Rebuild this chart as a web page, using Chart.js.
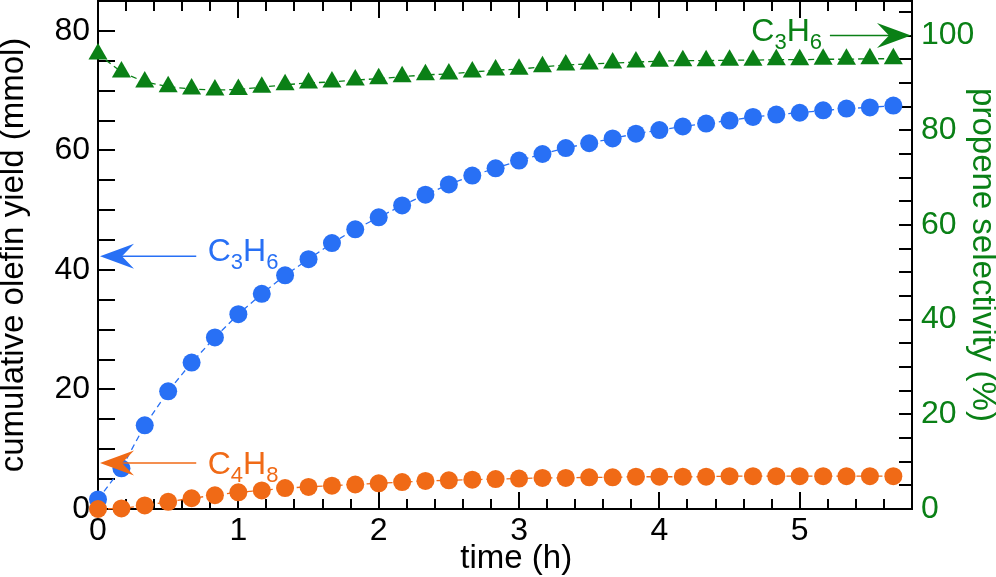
<!DOCTYPE html>
<html>
<head>
<meta charset="utf-8">
<script src="https://cdn.jsdelivr.net/npm/chart.js@4.4.1/dist/chart.umd.min.js"></script>
<style>
  html, body { margin: 0; padding: 0; background: #fff; }
  canvas { display: block; }
</style>
</head>
<body>
<canvas id="c" width="996" height="577"></canvas>
<script>
// ---- data ----
const times = [0, 0.167, 0.333, 0.5, 0.667, 0.833, 1, 1.167, 1.333, 1.5, 1.667, 1.833,
  2, 2.167, 2.333, 2.5, 2.667, 2.833, 3, 3.167, 3.333, 3.5, 3.667, 3.833,
  4, 4.167, 4.333, 4.5, 4.667, 4.833, 5, 5.167, 5.333, 5.5, 5.667];
const propeneYield = [1.6, 6.8, 14.0, 19.7, 24.5, 28.7, 32.6, 36.0, 39.1, 41.8, 44.5, 46.8,
  48.8, 50.8, 52.6, 54.3, 55.8, 57.0, 58.3, 59.4, 60.4, 61.2, 62.0, 62.8,
  63.4, 64.0, 64.5, 65.0, 65.6, 66.0, 66.3, 66.7, 67.0, 67.2, 67.5];
const buteneYield = [0, 0.1, 0.6, 1.2, 1.8, 2.3, 2.8, 3.1, 3.5, 3.7, 3.9, 4.1,
  4.3, 4.5, 4.7, 4.8, 4.9, 5.0, 5.1, 5.2, 5.2, 5.3, 5.3, 5.4,
  5.4, 5.4, 5.4, 5.5, 5.5, 5.5, 5.5, 5.5, 5.5, 5.5, 5.5];
const propeneSelectivity = [96.1, 92.3, 90.2, 89.2, 88.7, 88.5, 88.6, 89.1, 89.6, 90.0, 90.2, 90.6,
  90.9, 91.3, 91.7, 91.9, 92.3, 92.7, 92.9, 93.4, 93.8, 94.0, 94.2, 94.4,
  94.6, 94.7, 94.7, 94.8, 94.8, 94.9, 94.9, 95.0, 95.0, 95.1, 95.1];
const xTickValues = [0, 1, 2, 3, 4, 5];
const leftTickValues = [0, 20, 40, 60, 80];
const rightTickValues = [0, 20, 40, 60, 80, 100];

// ---- styles ----
const BLUE = 'rgb(40,112,245)';
const ORANGE = 'rgb(240,106,22)';
const GREEN = 'rgb(10,128,22)';
const FONT = '"Liberation Sans", Arial, Helvetica, sans-serif';
Chart.defaults.font.family = FONT;

const pts = (vals) => times.map((t, i) => ({ x: t, y: vals[i] }));

function drawFormula(ctx, x, baseline, parts, color) {
  ctx.fillStyle = color;
  ctx.textBaseline = 'alphabetic';
  ctx.textAlign = 'left';
  let cx = x;
  parts.forEach(([txt, sub]) => {
    ctx.font = (sub ? '22px ' : '32px ') + FONT;
    ctx.fillText(txt, cx, baseline + (sub ? 8 : 0));
    cx += ctx.measureText(txt).width;
  });
}

function drawArrow(ctx, tipX, y, tailX, color) {
  const dir = tailX > tipX ? 1 : -1;
  const L = 34, W = 12.5, N = 22;
  ctx.strokeStyle = color;
  ctx.fillStyle = color;
  ctx.lineWidth = 1.5;
  ctx.beginPath();
  ctx.moveTo(tipX + dir * N, y);
  ctx.lineTo(tailX, y);
  ctx.stroke();
  ctx.beginPath();
  ctx.moveTo(tipX, y);
  ctx.lineTo(tipX + dir * L, y - W);
  ctx.lineTo(tipX + dir * N, y);
  ctx.lineTo(tipX + dir * L, y + W);
  ctx.closePath();
  ctx.fill();
}

const insideTicks = {
  id: 'insideTicks',
  beforeDatasetsDraw(chart) {
    const { ctx, chartArea: a, scales: { x, y, y2 } } = chart;
    ctx.save();
    ctx.strokeStyle = '#000';
    ctx.lineWidth = 2;
    ctx.beginPath();
    ctx.moveTo(a.left - 1, a.top);
    ctx.lineTo(a.right + 1, a.top);
    const nx = Math.round((x.max - x.min) / 0.2);
    for (let i = 1; i < nx; i++) {
      const v = x.min + i * 0.2;
      const px = Math.round(x.getPixelForValue(v));
      const L = (i % 5 === 0) ? 17 : 10;
      ctx.moveTo(px, a.bottom); ctx.lineTo(px, a.bottom - L);
      ctx.moveTo(px, a.top); ctx.lineTo(px, a.top + L);
    }
    for (let v = 5; v < y.max; v += 5) {
      const py = Math.round(y.getPixelForValue(v));
      ctx.moveTo(a.left, py); ctx.lineTo(a.left + 17, py);
    }
    for (let v = 5; v < y2.max; v += 5) {
      const py = Math.round(y2.getPixelForValue(v));
      ctx.moveTo(a.right, py); ctx.lineTo(a.right - 13, py);
    }
    ctx.stroke();
    ctx.restore();
  },
  afterDatasetsDraw(chart) {
    const { ctx, scales: { x, y, y2 } } = chart;
    ctx.save();
    // blue C3H6 arrow -> left axis
    const yb = y.getPixelForValue(42.3);
    drawArrow(ctx, x.getPixelForValue(0) + 2, yb, x.getPixelForValue(0.70), BLUE);
    drawFormula(ctx, x.getPixelForValue(0.782), yb + 5, [['C', false], ['3', true], ['H', false], ['6', true]], BLUE);
    // orange C4H8 arrow -> left axis
    const yo = y.getPixelForValue(7.7);
    drawArrow(ctx, x.getPixelForValue(0) + 2, yo, x.getPixelForValue(0.70), ORANGE);
    drawFormula(ctx, x.getPixelForValue(0.782), yo + 11, [['C', false], ['4', true], ['H', false], ['8', true]], ORANGE);
    // green C3H6 arrow -> right axis
    const yg = y2.getPixelForValue(100);
    drawArrow(ctx, x.getPixelForValue(x.max) - 1, yg, x.getPixelForValue(5.215), GREEN);
    drawFormula(ctx, x.getPixelForValue(4.655), yg + 5, [['C', false], ['3', true], ['H', false], ['6', true]], GREEN);
    // x axis title
    ctx.fillStyle = '#000';
    ctx.font = '33px ' + FONT;
    ctx.textAlign = 'center';
    ctx.textBaseline = 'alphabetic';
    ctx.fillText('time (h)', x.getPixelForValue(2.98), 568);
    ctx.restore();
  }
};

const noPadV = s => { s.paddingTop = 0; s.paddingBottom = 0; };

new Chart(document.getElementById('c'), {
  type: 'line',
  data: {
    datasets: [
      {
        label: 'C4H8 yield', data: pts(buteneYield), yAxisID: 'y', order: 0,
        borderColor: ORANGE, backgroundColor: ORANGE, borderWidth: 1.3, borderDash: [6, 4],
        pointRadius: 9, pointHoverRadius: 9, pointBorderWidth: 0, clip: false, tension: 0
      },
      {
        label: 'C3H6 yield', data: pts(propeneYield), yAxisID: 'y', order: 1,
        borderColor: BLUE, backgroundColor: BLUE, borderWidth: 1.3, borderDash: [6, 4],
        pointRadius: 9, pointHoverRadius: 9, pointBorderWidth: 0, clip: false, tension: 0
      },
      {
        label: 'propene selectivity', data: pts(propeneSelectivity), yAxisID: 'y2', order: 2,
        borderColor: GREEN, backgroundColor: GREEN, borderWidth: 1.3, borderDash: [6, 4],
        pointStyle: 'triangle', pointRadius: 11, pointHoverRadius: 11, pointBorderWidth: 0,
        clip: false, tension: 0
      }
    ]
  },
  options: {
    responsive: false,
    animation: false,
    devicePixelRatio: 1,
    events: [],
    layout: { autoPadding: false, padding: { top: 1, left: 0, right: 0, bottom: 0 } },
    plugins: { legend: { display: false }, tooltip: { enabled: false } },
    scales: {
      x: {
        type: 'linear', position: 'bottom', min: 0, max: 5.8,
        afterBuildTicks: s => { s.ticks = xTickValues.map(v => ({ value: v })); },
        afterFit: s => { s.height = 68; s.paddingLeft = 0; s.paddingRight = 0; },
        ticks: { color: '#000', font: { size: 32 }, padding: 3, maxRotation: 0, autoSkip: false },
        grid: { drawOnChartArea: false, drawTicks: false },
        border: { color: '#000', width: 2 }
      },
      y: {
        type: 'linear', position: 'left', min: 0, max: 85,
        afterBuildTicks: s => { s.ticks = leftTickValues.map(v => ({ value: v })); },
        afterFit: s => { s.width = 98; noPadV(s); },
        ticks: { color: '#000', font: { size: 32 }, padding: 8, autoSkip: false },
        grid: { drawOnChartArea: false, drawTicks: false },
        border: { color: '#000', width: 2 },
        title: { display: true, text: 'cumulative olefin yield (mmol)', color: '#000',
                 font: { size: 33, lineHeight: 0.85 }, padding: 0 }
      },
      y2: {
        type: 'linear', position: 'right', min: 0, max: 107.3,
        afterBuildTicks: s => { s.ticks = rightTickValues.map(v => ({ value: v })); },
        afterFit: s => { s.width = 84; noPadV(s); },
        ticks: { color: GREEN, font: { size: 32 }, padding: 9, autoSkip: false },
        grid: { drawOnChartArea: false, drawTicks: false },
        border: { color: '#000', width: 2 },
        title: { display: true, text: 'propene selectivity (%)', color: GREEN,
                 font: { size: 33, lineHeight: 0.85 }, padding: 0 }
      }
    }
  },
  plugins: [insideTicks]
});
</script>
</body>
</html>
